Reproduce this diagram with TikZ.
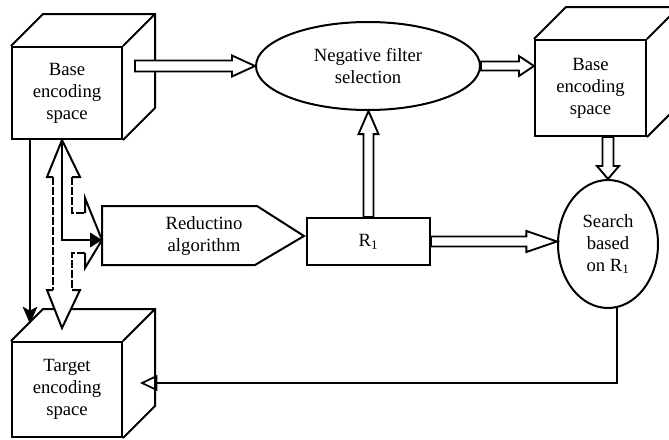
\documentclass[tikz,border=0pt]{standalone}
\usepackage{fontspec}
\setmainfont{Liberation Serif}
\usetikzlibrary{calc,arrows.meta,shapes.geometric}
\newcommand\cubeback[1]{\draw[thk] (#1.north west) -- ++(32,-32) -| ($(#1.south east)+(32,-32)$) -- (#1.south east) (#1.north east) -- ++(32,-32);}
\newcommand\hollowR[5]{\path[hollow] let \p1=(#1), \p2=(#2) in (\x1,\y1+#3) -- (\x2-#5,\y1+#3) -- (\x2-#5,\y1+#4) -- (\x2,\y1) -- (\x2-#5,\y1-#4) -- (\x2-#5,\y1-#3) -- (\x1,\y1-#3) -- cycle;}
\newcommand\hollowD[5]{\path[hollow] let \p1=(#1), \p2=(#2) in (\x1-#3,\y1) -- (\x1-#3,\y2+#5) -- (\x1-#4,\y2+#5) -- (\x1,\y2) -- (\x1+#4,\y2+#5) -- (\x1+#3,\y2+#5) -- (\x1+#3,\y1) -- cycle;}
\newcommand\hollowU[5]{\path[hollow] let \p1=(#1), \p2=(#2) in (\x1-#3,\y1) -- (\x1-#3,\y2-#5) -- (\x1-#4,\y2-#5) -- (\x1,\y2) -- (\x1+#4,\y2-#5) -- (\x1+#3,\y2-#5) -- (\x1+#3,\y1) -- cycle;}
\begin{document}
\begin{tikzpicture}[x=0.75pt,y=-0.75pt,
  every node/.style={font=\fontsize{14}{16.5}\selectfont, align=center, inner sep=0pt},
  face/.style={draw, line width=1.5pt, fill=white, rectangle, line join=miter},
  thk/.style={line width=1.5pt, line join=miter},
  hollow/.style={draw, fill=white, line width=1.4pt, line join=miter},
  conn/.style={line width=1.3pt},
  dsh/.style={line width=1.4pt, dash pattern=on 6pt off 1.5pt}]
\useasboundingbox (0,0) rectangle (669,440);

% cubes
\node[face, minimum width=82.5pt, minimum height=69pt] (b1) at (67,93) {Base\\encoding\\space};
\cubeback{b1}
\node[face, minimum width=83.25pt, minimum height=72pt] (b2) at (590.5,88) {Base\\encoding\\space};
\cubeback{b2}
\node[face, minimum width=82.5pt, minimum height=71.25pt] (tgt) at (67,389.5) {Target\\encoding\\space};
\cubeback{tgt}

% ellipses and boxes
\node[draw, ellipse, line width=1.5pt, minimum width=168pt, minimum height=66pt] (neg) at (368,66) {Negative filter\\selection};
\node[draw, ellipse, line width=1.5pt, minimum width=75pt, minimum height=96pt] (srch) at (608,244) {Search\\based\\on R\textsubscript{1}};
\node[draw, rectangle, line width=1.5pt, minimum width=92.25pt, minimum height=35.25pt] (r1) at (368.5,241.5) {R\textsubscript{1}};
\draw[thk] (102,206) -- (257,206) -- (304,236) -- (255,265) -- (102,265) -- cycle;
\node (red) at (204,236) {Reductino\\algorithm};

% hollow arrows
\coordinate (a1s) at (135,66);
\hollowR{a1s}{neg.west}{4.1pt}{7.9pt}{17.3pt}
\coordinate (a2e) at (neg.east -| b2.west);
\hollowR{neg.east}{a2e}{3.4pt}{7.5pt}{11.3pt}
\coordinate (a3s) at (b2.south -| srch.north);
\hollowD{a3s}{srch.north}{4.1pt}{8.3pt}{9.8pt}
\hollowU{r1.north}{neg.south}{3.75pt}{7.5pt}{17.3pt}
\coordinate (a5e) at (r1.east -| srch.west);
\hollowR{r1.east}{a5e}{3.75pt}{7.9pt}{23pt}

% dashed fork arrow
\path[fill=white] (62,140) -- (80,177) -- (72,177) -- (72,213) -- (85,213) -- (85,198) -- (102,240) -- (85,268) -- (85,253) -- (72,253) -- (72,290) -- (80,290) -- (62,328) -- (47,290) -- (53,290) -- (53,177) -- (47,177) -- cycle;
\draw[thk] (53,177) -- (47,177) -- (62,140) -- (80,177) -- (72,177);
\draw[thk] (53,290) -- (47,290) -- (62,328) -- (80,290) -- (72,290);
\draw[thk] (85,213) -- (85,198) -- (102,240) -- (85,268) -- (85,253);
\draw[dsh] (53,177) -- (53,290);
\draw[dsh] (72,177) -- (72,213) -- (85,213);
\draw[dsh] (85,253) -- (72,253) -- (72,290);

% solid connectors
\coordinate (s1) at (62,139);
\coordinate (s2) at (102,240);
\draw[conn, -{Triangle[length=9pt,width=11pt]}] (s1) |- (s2);
\coordinate (l1) at (30,139);
\coordinate (l2) at (30,324);
\draw[conn, -{Stealth[length=13pt,width=11pt,inset=3pt]}] (l1) -- (l2);
\coordinate (tin) at (140,383);
\draw[conn, -{Triangle[open,length=13pt,width=12pt]}] (srch.-82) |- (tin);
\end{tikzpicture}
\end{document}
